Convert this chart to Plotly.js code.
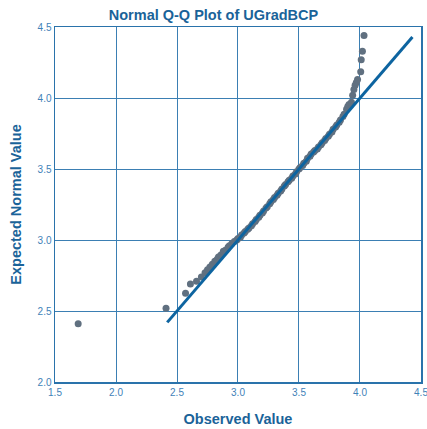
<!DOCTYPE html>
<html>
<head>
<meta charset="utf-8">
<script src="https://cdn.plot.ly/plotly-3.0.1.min.js"></script>
<style>html,body{margin:0;padding:0;background:#fff;}#chart{width:427px;height:429px;}</style>
</head>
<body>
<div id="chart"></div>
<script>
const observed = [1.69, 2.41, 2.57, 2.61, 2.66, 2.70, 2.73, 2.75, 2.77, 2.79, 2.81, 2.83, 2.84, 2.86, 2.88, 2.90, 2.92, 2.93, 2.95, 2.97, 2.99, 3.00, 3.02, 3.03, 3.05, 3.06, 3.08, 3.09, 3.11, 3.12, 3.14, 3.15, 3.17, 3.18, 3.20, 3.21, 3.23, 3.24, 3.26, 3.27, 3.29, 3.30, 3.32, 3.33, 3.35, 3.36, 3.38, 3.39, 3.41, 3.42, 3.44, 3.45, 3.47, 3.48, 3.50, 3.51, 3.53, 3.54, 3.56, 3.57, 3.59, 3.60, 3.62, 3.63, 3.65, 3.66, 3.68, 3.69, 3.71, 3.72, 3.74, 3.75, 3.77, 3.78, 3.80, 3.81, 3.83, 3.84, 3.86, 3.87, 3.89, 3.90, 3.91, 3.93, 3.94, 3.95, 3.96, 3.97, 3.98, 4.006, 4.01, 4.02, 4.033];
const expected = [2.41, 2.52, 2.625, 2.69, 2.71, 2.74, 2.77, 2.79, 2.81, 2.83, 2.85, 2.865, 2.88, 2.895, 2.92, 2.93, 2.95, 2.96, 2.975, 2.99, 3.00, 3.01, 3.02, 3.035, 3.05, 3.06, 3.075, 3.085, 3.10, 3.115, 3.13, 3.145, 3.16, 3.175, 3.19, 3.205, 3.225, 3.235, 3.255, 3.27, 3.285, 3.30, 3.315, 3.33, 3.345, 3.36, 3.38, 3.39, 3.41, 3.42, 3.435, 3.45, 3.465, 3.48, 3.50, 3.51, 3.525, 3.54, 3.555, 3.575, 3.59, 3.605, 3.62, 3.63, 3.64, 3.655, 3.67, 3.685, 3.70, 3.715, 3.73, 3.745, 3.76, 3.78, 3.795, 3.81, 3.83, 3.845, 3.87, 3.885, 3.92, 3.94, 3.955, 3.97, 4.02, 4.06, 4.09, 4.11, 4.13, 4.185, 4.27, 4.33, 4.44];
const refLineX = [2.42, 4.43];
const refLineY = [2.42, 4.43];
const tickVals = [1.5, 2.0, 2.5, 3.0, 3.5, 4.0, 4.5];
const yTickVals = [2.0, 2.5, 3.0, 3.5, 4.0, 4.5];

const gridCol = '#3b7fb3';
const tickFont = {family: 'Liberation Sans, Arial, sans-serif', size: 10, color: '#3f82b8'};
const titleFont = {family: 'Liberation Sans, Arial, sans-serif', size: 14.5, color: '#1a6399', weight: 'bold'};

const traces = [
  {x: observed, y: expected, type: 'scatter', mode: 'markers',
   marker: {size: 7, color: '#607080'}, hoverinfo: 'none'},
  {x: refLineX, y: refLineY, type: 'scatter', mode: 'lines',
   line: {color: '#0d64a0', width: 3}, hoverinfo: 'none'}
];

const layout = {
  width: 427, height: 429,
  margin: {l: 55, r: 6, t: 27, b: 47},
  paper_bgcolor: '#fff', plot_bgcolor: '#fff',
  showlegend: false,
  title: {text: 'Normal Q-Q Plot of UGradBCP', font: titleFont, x: 0.5, xanchor: 'center', y: 0.978, yanchor: 'top'},
  xaxis: {range: [1.5, 4.5001], tickvals: tickVals, ticktext: tickVals.map(v => v.toFixed(1)),
    showgrid: true, gridcolor: gridCol, gridwidth: 1, zeroline: false,
    showline: true, linecolor: '#2a73ab', linewidth: 1.5, mirror: true,
    ticks: '', tickfont: tickFont, ticklabeloverflow: 'allow',
    title: {text: 'Observed Value', font: titleFont, standoff: 17}},
  yaxis: {range: [2.0, 4.5], tickvals: yTickVals, ticktext: yTickVals.map(v => v.toFixed(1)),
    showgrid: true, gridcolor: gridCol, gridwidth: 1, zeroline: false,
    showline: true, linecolor: '#2a73ab', linewidth: 1.5, mirror: true,
    ticks: '', tickfont: tickFont,
    title: {text: 'Expected Normal Value', font: titleFont, standoff: 12}}
};

Plotly.newPlot('chart', traces, layout, {displayModeBar: false, staticPlot: true});
</script>
</body>
</html>
